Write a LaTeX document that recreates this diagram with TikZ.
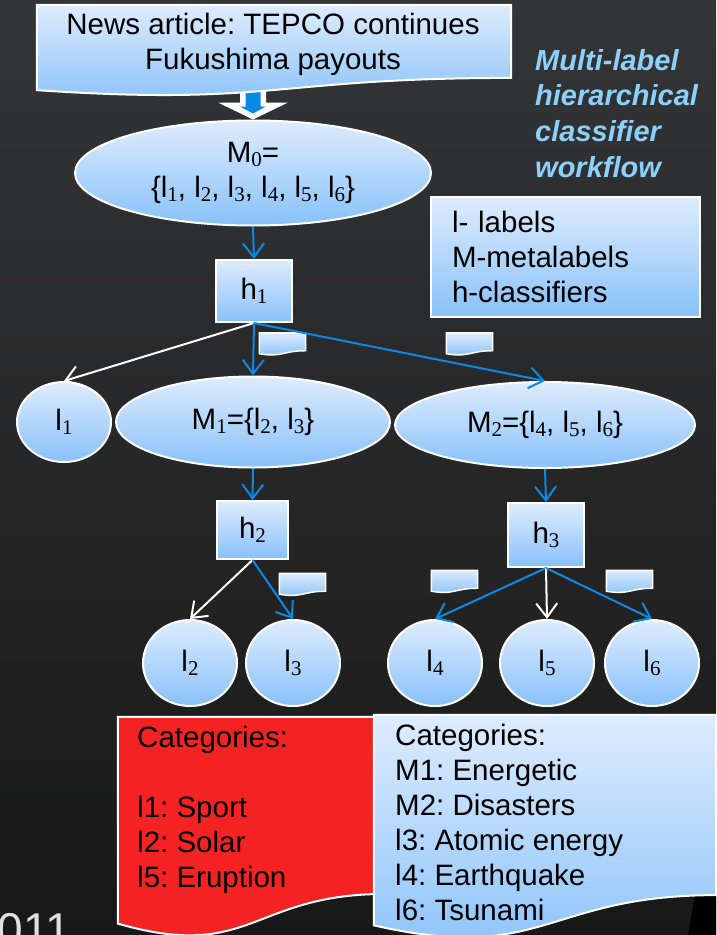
\documentclass[tikz,border=0pt]{standalone}
\usepackage{fontspec}
\setmainfont{Liberation Sans}
\newfontfamily\subfont{Liberation Serif}
\usetikzlibrary{shapes.geometric, arrows.meta, calc}

\definecolor{lbtop}{RGB}{222,236,253}
\definecolor{lbbot}{RGB}{136,193,250}
\definecolor{arrowblue}{RGB}{10,138,230}
\definecolor{titleblue}{RGB}{141,208,250}
\definecolor{catred}{RGB}{245,34,36}
\definecolor{bgtop}{RGB}{52,53,55}
\definecolor{bgbot}{RGB}{24,24,24}

\pgfdeclarelayer{back}
\pgfdeclarelayer{docs}
\pgfsetlayers{back,docs,main}

% serif subscript digit
\newcommand{\lsub}[1]{\raisebox{-4pt}{\fontsize{21}{21}\selectfont\subfont #1}}

% document shape round an empty node
\newcommand{\docframe}[2]{%
  \path[#2] (#1.north west) -- (#1.north east)
    -- ($(#1.north east)!0.80!(#1.south east)$)
    .. controls ($(#1.north)!0.80!(#1.south)$) and ($(#1.north)!1.1075!(#1.south)$)
    .. ($(#1.north west)!0.934!(#1.south west)$) -- cycle;}

\frenchspacing
\begin{document}
\begin{tikzpicture}[x=1pt, y=-1pt,
  every node/.style={font=\fontsize{29.5}{35}\selectfont},
  doc/.style={top color=lbtop, bottom color=lbbot, draw=white, line width=2pt},
  docnode/.style={rectangle, inner sep=0pt},
  txt/.style={inner sep=0pt},
  oval/.style={ellipse, inner sep=0pt, top color=lbtop, bottom color=lbbot, draw=white, line width=2pt},
  clf/.style={rectangle, inner sep=0pt, top color=lbtop, bottom color=lbbot, draw=white, line width=2pt},
  hit/.style={arrowblue, line width=2pt, -{Straight Barb[length=14pt,width=21pt]}},
  miss/.style={white, line width=2pt, -{Straight Barb[length=14pt,width=21pt]}}]

  \begin{pgfonlayer}{back}
    \shade[top color=bgtop, bottom color=bgbot] (0,0) rectangle (716,935);
    \fill[black] (695,895) -- (716,895) -- (716,935) -- (688,935) -- cycle;
  \end{pgfonlayer}
  \useasboundingbox (0,0) rectangle (716,935);

  % Nodes
  \node[docnode, minimum width=474, minimum height=91] (news) at (274,50.5) {};
  \node[txt, align=center] (newstext) at (273,44) {News article: TEPCO continues\\Fukushima payouts};

  \node[txt, anchor=north west, align=left, text=titleblue,
        font=\fontsize{29}{35.7}\selectfont\bfseries\itshape] (title) at (535,49)
        {Multi-label\\hierarchical\\classifier\\workflow};

  \node[clf, minimum width=269, minimum height=120, text width=227, align=left] (legend) at (565.5,257)
        {l- labels\\M-metalabels\\h-classifiers};

  \node[oval, minimum width=356, minimum height=105, align=center] (m0) at (253,173)
        {M\lsub{0}=\\\{l\lsub{1}, l\lsub{2}, l\lsub{3}, l\lsub{4}, l\lsub{5}, l\lsub{6}\}};
  \node[clf, minimum width=76, minimum height=62] (h1) at (254,291) {h\lsub{1}};

  \node[oval, minimum width=94, minimum height=80] (l1) at (64,422) {l\lsub{1}};
  \node[oval, minimum width=274, minimum height=91] (m1) at (253,422) {M\lsub{1}=\{l\lsub{2}, l\lsub{3}\}};
  \node[oval, minimum width=300, minimum height=86] (m2) at (545,425) {M\lsub{2}=\{l\lsub{4}, l\lsub{5}, l\lsub{6}\}};

  \node[clf, minimum width=71, minimum height=58] (h2) at (252.5,530) {h\lsub{2}};
  \node[clf, minimum width=76, minimum height=64] (h3) at (546,535) {h\lsub{3}};

  \node[oval, minimum width=94, minimum height=86] (l2) at (190,663) {l\lsub{2}};
  \node[oval, minimum width=94, minimum height=86] (l3) at (293,663) {l\lsub{3}};
  \node[oval, minimum width=94, minimum height=86] (l4) at (435,663) {l\lsub{4}};
  \node[oval, minimum width=94, minimum height=86] (l5) at (547,663) {l\lsub{5}};
  \node[oval, minimum width=94, minimum height=86] (l6) at (652,663) {l\lsub{6}};

  % small weight tags
  \node[docnode, minimum width=46, minimum height=22] (wa) at (282.5,344) {};
  \node[docnode, minimum width=46, minimum height=22] (wb) at (469.5,344) {};
  \node[docnode, minimum width=46, minimum height=22] (wc) at (302.5,584.5) {};
  \node[docnode, minimum width=46, minimum height=22] (wd) at (454.5,581.5) {};
  \node[docnode, minimum width=46, minimum height=22] (we) at (629.5,581.5) {};

  % categories
  \node[docnode, minimum width=267, minimum height=221] (redcat) at (251.5,827.5) {};
  \node[docnode, minimum width=342, minimum height=225] (bluecat) at (545,827.5) {};
  \node[txt, anchor=north west, align=left] (redtext) at (137,725.5)
        {Categories:\\[35pt]l1: Sport\\l2: Solar\\l5: Eruption};
  \node[txt, anchor=north west, align=left] (bluetext) at (395,723.5)
        {Categories:\\M1: Energetic\\M2: Disasters\\l3: Atomic energy\\l4: Earthquake\\l6: Tsunami};

  \node[txt, anchor=base east, text=white!88!black, font=\fontsize{46}{50}\selectfont] (year) at (71,945) {011};

  \begin{pgfonlayer}{docs}
    % block arrow into M0
    \fill[white] ($(m0.north)+(-13,-32)$) -- ($(m0.north)+(-13,-17)$) -- ($(m0.north)+(-35,-17)$)
      -- (m0.north) -- ($(m0.north)+(35,-17)$) -- ($(m0.north)+(13,-17)$) -- ($(m0.north)+(13,-32)$) -- cycle;
    \fill[arrowblue] ($(m0.north)+(-7.5,-32)$) -- ($(m0.north)+(-7.5,-13)$) -- ($(m0.north)+(-13,-13)$)
      -- ($(m0.north)+(0,-6)$) -- ($(m0.north)+(13,-13)$) -- ($(m0.north)+(7.5,-13)$) -- ($(m0.north)+(7.5,-32)$) -- cycle;
    \docframe{news}{doc}
    \foreach \w in {wa,wb,wc,wd,we} {\docframe{\w}{doc, line width=1.5pt}}
    \docframe{redcat}{fill=catred, draw=white, line width=2pt}
    \docframe{bluecat}{doc}
  \end{pgfonlayer}

  % Arrows
  \draw[hit] (m0.south) -- (h1.north);
  \draw[miss] (h1.south) -- (l1.north);
  \draw[hit] (h1.south) -- (m1.north);
  \draw[hit] (h1.south) -- (m2.north);
  \draw[hit] (m1.south) -- (h2.north);
  \draw[hit] (m2.south) -- (h3.north);
  \draw[miss] (h2.south) -- (l2.north);
  \draw[hit] (h2.south) -- (l3.north);
  \draw[hit] (h3.south) -- (l4.north);
  \draw[miss] (h3.south) -- (l5.north);
  \draw[hit] (h3.south) -- (l6.north);

\end{tikzpicture}
\end{document}
